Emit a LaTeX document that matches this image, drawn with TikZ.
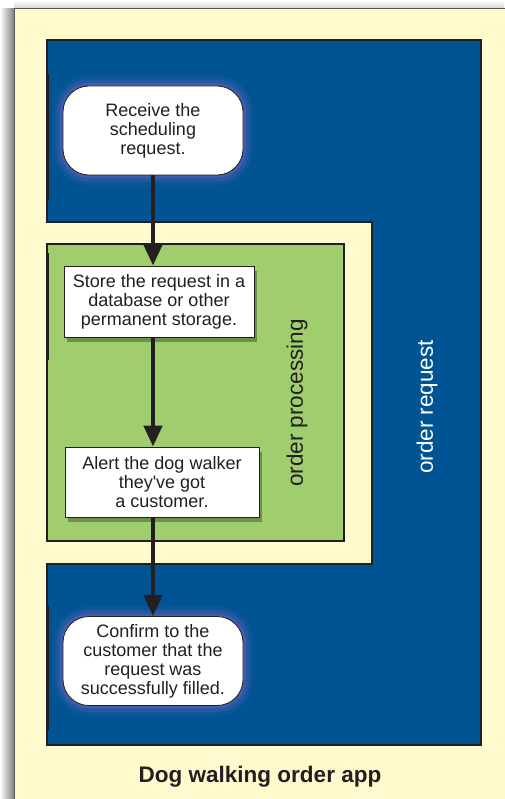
\documentclass[tikz,border=0pt]{standalone}
\usepackage{fontspec}
\setmainfont{Liberation Sans}
\usetikzlibrary{arrows.meta,shadows}
\definecolor{panelcream}{RGB}{255,250,205}
\definecolor{laneblue}{RGB}{0,84,147}
\definecolor{lanegreen}{RGB}{160,206,111}
\definecolor{inkdark}{RGB}{35,31,32}
\definecolor{glowcol}{RGB}{130,105,200}
\begin{document}
\begin{tikzpicture}[x=1pt,y=-1pt,
		steptext/.style={text=inkdark,align=center,font=\fontsize{18}{19}\selectfont,inner sep=0pt},
		stepround/.style={steptext,draw=inkdark,line width=0.8pt,fill=white,rounded corners=26pt,minimum width=180pt,minimum height=89pt,
			preaction={draw=glowcol,line width=20pt,opacity=.12},
			preaction={draw=glowcol,line width=13pt,opacity=.18},
			preaction={draw=glowcol,line width=6pt,opacity=.3}},
		stepbox/.style={steptext,draw=inkdark,line width=0.8pt,fill=white,
			drop shadow={shadow xshift=3pt,shadow yshift=-5pt,opacity=.3,fill=black}},
		flow/.style={draw=inkdark,line width=4.5pt,-{Triangle[width=18pt,length=21pt]}},
		lanelabel/.style={rotate=90,font=\fontsize{22.5}{24}\selectfont}]
		\useasboundingbox (0,0) rectangle (504,799);
		% page shadow and panel
		\shade[top color=white,bottom color=black!18] (14,0) rectangle (504,9);
		\shade[left color=white,right color=black!50] (0,9) rectangle (14,799);
		\fill[panelcream] (14,9) rectangle (530,830);
		\draw[black!65,line width=1pt] (14,830) -- (14,9) -- (530,9);
		% order request lane
		\draw[fill=laneblue,draw=inkdark,line width=1.2pt] (47,40) -- (481,40) -- (481,745) -- (47,745) -- (47,564)
			-- (372,564) -- (372,222) -- (47,222) -- cycle;
		% order processing lane
		\draw[fill=lanegreen,draw=inkdark,line width=2pt] (47,244) rectangle (344,541);
		% lane marks
		\draw[inkdark,line width=3pt] (47,74) -- (47,200);
		\draw[inkdark,line width=3pt] (47,253) -- (47,360);
		\draw[inkdark,line width=3pt] (47,605) -- (47,730);
		\node[lanelabel,text=inkdark] (proclabel) at (297,403) {order processing};
		\node[lanelabel,text=white] (reqlabel) at (427,407) {order request};
		% steps
		\node[stepround] (recv) at (153,130.5) {Receive the\\scheduling\\request.};
		\node[stepbox,minimum width=190pt,minimum height=71pt] (store) at (159,301.5) {Store the request in a\\database or other\\permanent storage.};
		\node[stepbox,minimum width=194pt,minimum height=70pt] (alert) at (162,482) {Alert the dog walker\\they\textquotesingle ve got\\a customer.};
		\node[stepround] (confirm) at (153,661) {Confirm to the\\customer that the\\request was\\successfully filled.};
		\draw[flow] (recv.south) -- (recv.south |- store.north);
		\draw[flow] (store.south -| recv) -- (alert.north -| recv);
		\draw[flow] (alert.south -| recv) -- (confirm.north);
		\node[font=\fontsize{22.5}{24}\selectfont\bfseries,text=inkdark] (title) at (260,777) {Dog walking order app};
	\end{tikzpicture}
\end{document}
